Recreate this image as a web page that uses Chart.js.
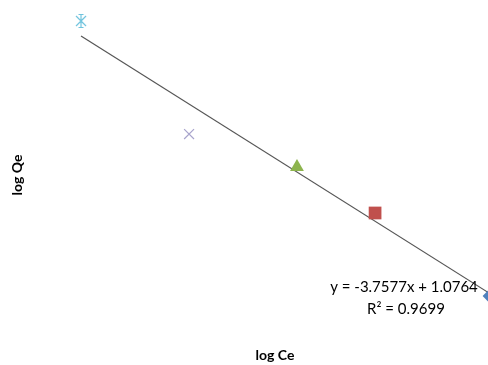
<!DOCTYPE html>
<html>
<head>
<meta charset="utf-8">
<script src="https://cdn.jsdelivr.net/npm/chart.js@4"></script>
<style>
html,body{margin:0;padding:0;background:#fff;}
#wrap{width:488px;height:365px;position:relative;}
</style>
</head>
<body>
<div id="wrap"><canvas id="c"></canvas></div>
<script>
// data (log Ce, log Qe) per series
const seriesNames = ['s1', 's2', 's3', 's4', 's5'];
const logCe = [0.05, 0.1167, 0.1833, 0.2315, 0.3025];
const logQe = [0.9438, 0.5277, 0.4062, 0.2369, -0.0688];
const trendSlope = -3.7577;
const trendIntercept = 1.0764;
const trendX = [0.05, 0.32];
const eqLabel = 'y = -3.7577x + 1.0764';
const r2Label = 'R\u00B2 = 0.9699';
const xTitle = 'log Ce';
const yTitle = 'log Qe';

function asterisk(color) {
  const c = document.createElement('canvas');
  c.width = 14; c.height = 16;
  const g = c.getContext('2d');
  g.strokeStyle = color; g.lineWidth = 1.2;
  g.beginPath();
  g.moveTo(7, 1); g.lineTo(7, 15);
  g.moveTo(2, 3); g.lineTo(12, 13);
  g.moveTo(12, 3); g.lineTo(2, 13);
  g.moveTo(4.5, 1.5); g.lineTo(9.5, 1.5);
  g.moveTo(4.5, 14.5); g.lineTo(9.5, 14.5);
  g.stroke();
  return c;
}

const styles = [
  {pointStyle: asterisk('#6fc3dd'), radius: 8, bg: '#6fc3dd', bc: '#6fc3dd', bw: 1},
  {pointStyle: 'crossRot', radius: 7, bg: '#a8a4cc', bc: '#a8a4cc', bw: 1.2},
  {pointStyle: 'triangle', radius: 8, bg: '#8db44e', bc: '#8db44e', bw: 0},
  {pointStyle: 'rect', radius: 9, bg: '#c0504d', bc: '#c0504d', bw: 0},
  {pointStyle: 'rectRot', radius: 7.5, bg: '#4f81bd', bc: '#4f81bd', bw: 0}
];

const datasets = logCe.map((x, i) => ({
  label: seriesNames[i],
  type: 'scatter',
  data: [{x: x, y: logQe[i]}],
  pointStyle: styles[i].pointStyle,
  pointRadius: styles[i].radius,
  pointBackgroundColor: styles[i].bg,
  pointBorderColor: styles[i].bc,
  pointBorderWidth: styles[i].bw,
  clip: false,
  order: 1
}));

datasets.push({
  label: 'trend',
  type: 'line',
  data: trendX.map(x => ({x: x, y: trendSlope * x + trendIntercept})),
  borderColor: '#555555',
  borderWidth: 1.2,
  pointRadius: 0,
  fill: false,
  clip: false,
  order: 2
});

const textPlugin = {
  id: 'texts',
  afterDraw(chart) {
    const ctx = chart.ctx;
    ctx.save();
    ctx.fillStyle = '#000';
    ctx.textAlign = 'center';
    ctx.textBaseline = 'middle';
    ctx.font = '15px Lato, "Open Sans", sans-serif';
    ctx.fillText(eqLabel, 404, 287);
    ctx.fillText(r2Label, 406, 309);
    ctx.font = 'bold 14px Lato, "Open Sans", sans-serif';
    ctx.fillText(xTitle, 275, 355);
    ctx.translate(17, 175);
    ctx.rotate(-Math.PI / 2);
    ctx.fillText(yTitle, 0, 0);
    ctx.restore();
  }
};

new Chart(document.getElementById('c'), {
  type: 'scatter',
  data: {datasets: datasets},
  options: {
    responsive: true,
    maintainAspectRatio: false,
    animation: false,
    layout: {padding: 0, autoPadding: false},
    plugins: {legend: {display: false}, tooltip: {enabled: false}},
    scales: {
      x: {type: 'linear', display: false, min: 0, max: 0.3012},
      y: {type: 'linear', display: false, min: -0.3228, max: 1.0211}
    }
  },
  plugins: [textPlugin]
});
</script>
</body>
</html>
